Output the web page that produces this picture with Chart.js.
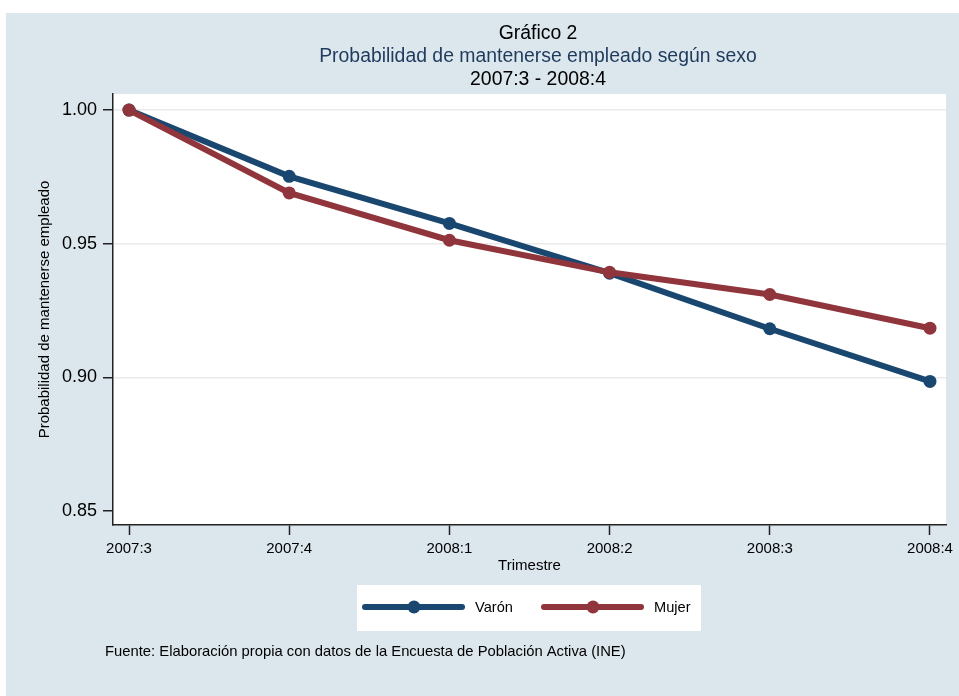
<!DOCTYPE html>
<html>
<head>
<meta charset="utf-8">
<script src="https://cdn.jsdelivr.net/npm/chart.js@4.4.1/dist/chart.umd.min.js"></script>
<style>
  html, body { margin: 0; padding: 0; background: #fff; }
</style>
</head>
<body>
<canvas id="grafico" width="959" height="696"></canvas>
<script>
const trimestres = ['2007:3', '2007:4', '2008:1', '2008:2', '2008:3', '2008:4'];
const varon = [1.000, 0.9752, 0.9576, 0.9390, 0.9182, 0.8985];
const mujer = [1.000, 0.9690, 0.9513, 0.9393, 0.9310, 0.9184];
const yTicks = [0.85, 0.90, 0.95, 1.00];

const FONT = '"Liberation Sans", Arial, sans-serif';
const AZUL = '#1a476f';
const ROJO = '#90353b';

const toPoints = arr => arr.map((v, i) => ({ x: i, y: v }));

// fondo, titulos, leyenda y fuente
const marco = {
  id: 'marco',
  beforeDraw(chart) {
    const { ctx, chartArea: a } = chart;
    ctx.save();
    ctx.fillStyle = '#fff';
    ctx.fillRect(0, 0, chart.width, chart.height);
    ctx.fillStyle = '#dce6ed';
    ctx.fillRect(6, 13, chart.width - 6, chart.height - 13);
    ctx.fillStyle = '#fff';
    ctx.fillRect(a.left, a.top, a.right - a.left, a.bottom - a.top);
    ctx.restore();
  },
  afterDraw(chart) {
    const { ctx } = chart;
    ctx.save();
    ctx.textAlign = 'center';
    ctx.textBaseline = 'middle';
    ctx.font = '19.4px ' + FONT;
    ctx.fillStyle = '#000';
    ctx.fillText('Gráfico 2', 538, 34);
    ctx.fillStyle = '#1e3a5c';
    ctx.fillText('Probabilidad de mantenerse empleado según sexo', 538, 57);
    ctx.fillStyle = '#000';
    ctx.fillText('2007:3 - 2008:4', 538, 80);

    // leyenda
    ctx.fillStyle = '#fff';
    ctx.fillRect(357, 585, 344, 46);
    const items = [
      { label: 'Varón', color: AZUL, x0: 365 },
      { label: 'Mujer', color: ROJO, x0: 544 }
    ];
    items.forEach(it => {
      ctx.strokeStyle = it.color;
      ctx.lineWidth = 6;
      ctx.lineCap = 'round';
      ctx.beginPath();
      ctx.moveTo(it.x0, 607);
      ctx.lineTo(it.x0 + 97, 607);
      ctx.stroke();
      ctx.fillStyle = it.color;
      ctx.beginPath();
      ctx.arc(it.x0 + 49, 607, 6.5, 0, Math.PI * 2);
      ctx.fill();
      ctx.fillStyle = '#000';
      ctx.textAlign = 'left';
      ctx.font = '14.6px ' + FONT;
      ctx.fillText(it.label, it.x0 + 110, 608);
    });

    ctx.font = '14.8px ' + FONT;
    ctx.fillText('Fuente: Elaboración propia con datos de la Encuesta de Población Activa (INE)', 105, 652);
    ctx.restore();
  }
};

new Chart(document.getElementById('grafico'), {
  type: 'line',
  data: {
    datasets: [
      {
        label: 'Varón',
        data: toPoints(varon),
        borderColor: AZUL,
        backgroundColor: AZUL,
        borderWidth: 6,
        pointRadius: 6.5,
        pointBorderWidth: 0,
        order: 1
      },
      {
        label: 'Mujer',
        data: toPoints(mujer),
        borderColor: ROJO,
        backgroundColor: ROJO,
        borderWidth: 6,
        pointRadius: 6.5,
        pointBorderWidth: 0,
        order: 0
      }
    ]
  },
  options: {
    responsive: false,
    animation: false,
    layout: { padding: { left: 0, top: 94, right: 13, bottom: 121 } },
    plugins: {
      legend: { display: false },
      tooltip: { enabled: false }
    },
    scales: {
      x: {
        type: 'linear',
        min: -0.1,
        max: 5.1,
        afterFit: s => { s.height = 50; },
        afterBuildTicks: s => { s.ticks = trimestres.map((_, i) => ({ value: i })); },
        ticks: {
          callback: v => trimestres[v],
          font: { family: FONT, size: 15 },
          color: '#000',
          padding: 5,
          maxRotation: 0,
          autoSkip: false
        },
        grid: { drawOnChartArea: false, tickLength: 10, tickColor: '#222', tickWidth: 1.5 },
        border: { color: '#222', width: 1.5 },
        title: {
          display: true,
          text: 'Trimestre',
          font: { family: FONT, size: 15 },
          color: '#000',
          padding: { top: 3, bottom: 0 }
        }
      },
      y: {
        min: 0.8448,
        max: 1.006,
        afterFit: s => { s.width = 113; },
        afterBuildTicks: s => { s.ticks = yTicks.map(v => ({ value: v })); },
        ticks: {
          callback: v => v.toFixed(2),
          font: { family: FONT, size: 18 },
          color: '#000',
          padding: 6
        },
        grid: {
          color: c => (c.tick && c.tick.value === 0.85 ? 'rgba(0,0,0,0)' : '#eaeaea'),
          lineWidth: 1.5,
          tickLength: 10,
          tickColor: '#222',
          tickWidth: 1.5
        },
        border: { color: '#222', width: 1.5 },
        title: {
          display: true,
          text: 'Probabilidad de mantenerse empleado',
          font: { family: FONT, size: 15 },
          color: '#000',
          padding: { top: 36, bottom: 0 }
        }
      }
    }
  },
  plugins: [marco]
});
</script>
</body>
</html>
